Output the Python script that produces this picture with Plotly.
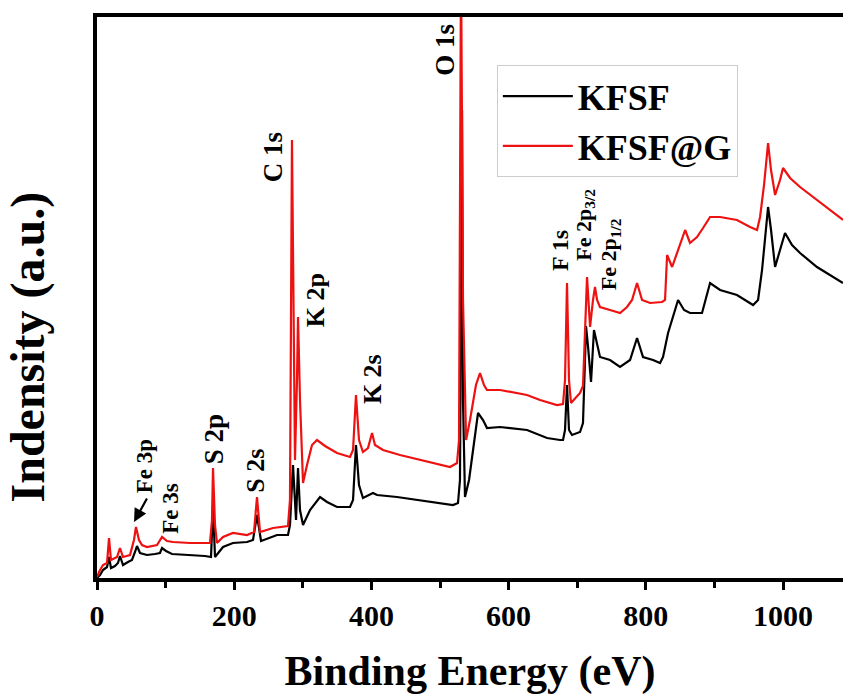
import plotly.graph_objects as go

# ---- data ----
energy_kfsf = [0, 4.4, 8.7, 14.6, 17.5, 20.4, 26.2, 30.6, 33.5, 37.9, 45.2, 51.0, 55.4, 58.3, 62.7,
               72.9, 84.5, 91.8, 94.8, 100.6, 109.3, 135.6, 157.4, 166.2, 169.1, 172.0, 176.4, 183.7,
               198.2, 218.7, 227.4, 233.2, 239.1, 252.2, 262.4, 278.4, 281.3, 285.7, 290.1, 293.0,
               295.9, 300.3, 310.5, 325.1, 335.3, 349.8, 368.8, 373.2, 377.5, 381.9, 387.7, 402.3,
               408.2, 437.3, 470.8, 500.0, 518.9, 526.2, 529.1, 532.1, 533.5, 536.4, 542.3, 555.4,
               562.7, 568.5, 587.5, 626.8, 656.0, 674.9, 679.3, 682.2, 685.1, 688.0, 692.4, 704.1,
               708.4, 711.4, 712.8, 715.7, 720.1, 724.4, 728.9, 733.2, 747.8, 762.4, 777.0, 787.2,
               795.9, 810.5, 820.7, 825.1, 832.4, 847.0, 855.7, 864.4, 881.9, 893.6, 908.2, 932.9,
               956.3, 963.6, 969.4, 978.2, 982.5, 988.4, 995.6, 1002.9, 1013.1, 1024.8, 1049.5,
               1072.9, 1087.4]
int_kfsf = [0, 3, 8, 11, 21, 10, 12, 15, 22, 13, 16, 18, 26, 32, 25,
            23, 24, 25, 30, 27, 24, 23, 22, 21, 73, 21, 25, 31,
            35, 36, 38, 63, 37, 40, 43, 43, 53, 113, 58, 110,
            68, 53, 68, 81, 76, 71, 71, 78, 133, 93, 80, 85,
            83, 81, 78, 75, 73, 75, 98, 468, 178, 81, 98, 165,
            158, 150, 151, 148, 140, 138, 138, 148, 193, 148, 143, 146,
            155, 220, 252, 232, 196, 248, 233, 221, 218, 211, 218, 240,
            221, 218, 215, 221, 245, 278, 268, 265, 265, 295, 288, 283,
            273, 278, 308, 371, 348, 311, 328, 345, 333, 325, 311,
            301, 295]

energy_kfsfg = [0, 2.9, 8.7, 14.6, 17.5, 20.4, 29.2, 33.5, 37.9, 48.1, 53.9, 56.8, 61.2, 65.6,
                72.9, 87.5, 94.8, 102.0, 110.8, 135.6, 164.7, 167.6, 169.1, 172.0, 174.9, 183.7,
                198.2, 218.7, 228.9, 233.2, 237.6, 256.6, 278.4, 281.3, 284.2, 287.2, 288.6, 291.5,
                293.0, 295.9, 300.3, 306.1, 313.4, 320.7, 332.4, 349.8, 368.8, 373.2, 377.5, 381.9,
                387.7, 395.0, 400.9, 405.2, 416.9, 441.7, 470.8, 514.6, 524.8, 527.7, 530.6, 533.5,
                538.0, 543.7, 552.4, 558.3, 564.1, 568.5, 587.5, 626.8, 645.8, 670.5, 679.3, 682.2,
                685.1, 688.0, 690.9, 704.1, 708.4, 711.4, 714.3, 717.2, 718.7, 723.0, 725.9, 728.9,
                733.2, 747.8, 762.4, 772.6, 779.9, 787.2, 794.5, 806.2, 823.7, 828.0, 831.0, 838.3,
                847.0, 857.3, 864.4, 874.6, 883.4, 893.6, 908.2, 932.9, 951.9, 962.1, 966.5, 972.3,
                978.2, 982.5, 988.4, 995.6, 1000.0, 1010.2, 1024.8, 1049.5, 1072.9, 1087.4]
int_kfsfg = [1, 6, 13, 15, 40, 18, 21, 30, 21, 23, 38, 51, 38, 33,
             31, 33, 41, 37, 36, 35, 35, 58, 110, 53, 35, 41,
             45, 43, 46, 81, 46, 50, 52, 78, 438, 158, 118, 198,
             261, 178, 95, 113, 133, 138, 132, 125, 121, 128, 183, 138,
             126, 130, 145, 133, 128, 123, 118, 111, 115, 138, 620, 278,
             138, 158, 193, 205, 193, 188, 188, 183, 178, 173, 174, 198,
             295, 198, 175, 185, 192, 258, 301, 268, 251, 278, 291, 278,
             271, 268, 265, 271, 278, 295, 278, 275, 276, 278, 323, 311,
             328, 348, 335, 341, 350, 361, 361, 358, 351, 348, 361, 393,
             435, 408, 383, 398, 410, 400, 391, 378, 365, 358]

x_tick_vals = [0, 200, 400, 600, 800, 1000]
series_names = ["KFSF", "KFSF@G"]

# ---- figure ----
FONT = "Liberation Serif"
fig = go.Figure()
fig.add_trace(go.Scatter(x=energy_kfsf, y=int_kfsf, mode="lines", name=series_names[0],
                         line=dict(color="#000000", width=2.2)))
fig.add_trace(go.Scatter(x=energy_kfsfg, y=int_kfsfg, mode="lines", name=series_names[1],
                         line=dict(color="#ee1111", width=2.2)))

labels = [
    ("O 1s", 507, 528, 27), ("C 1s", 257, 421, 27), ("K 2p", 318, 278, 26),
    ("K 2s", 401, 199, 26), ("S 2p", 171, 139, 27), ("S 2s", 230, 107, 26),
    ("Fe 3p", 69, 112, 23), ("Fe 3s", 106, 70, 23), ("F 1s", 675, 327, 24),
    ("Fe 2p<sub>3/2</sub>", 711, 353, 22), ("Fe 2p<sub>1/2</sub>", 748, 324, 22),
]
for txt, xx, yy, sz in labels:
    fig.add_annotation(x=xx, y=yy, text=txt, textangle=-90, showarrow=False,
                       font=dict(family=FONT, size=sz, color="black", weight="bold"),
                       xref="x", yref="y")
# arrow for Fe 3p
fig.add_annotation(x=54, y=56, ax=74, ay=81, axref="x", ayref="y", xref="x", yref="y",
                   text="", showarrow=True, arrowhead=2, arrowsize=1.2, arrowwidth=2.2,
                   arrowcolor="black")
# y-axis title (placed as in the reference, below centre)
fig.add_annotation(x=-0.093, y=0.412, xref="paper", yref="paper", text="Indensity (a.u.)",
                   textangle=-90, showarrow=False, xanchor="center", yanchor="middle",
                   font=dict(family=FONT, size=48, color="black", weight="bold"))

fig.update_layout(
    width=843, height=700,
    margin=dict(l=97, r=0, t=17, b=122),
    paper_bgcolor="white", plot_bgcolor="white",
    font=dict(family=FONT, color="black"),
    showlegend=True,
    legend=dict(x=0.536, y=0.914, xanchor="left", yanchor="top",
                bordercolor="#cccccc", borderwidth=1, bgcolor="white",
                font=dict(family=FONT, size=36, color="black", weight="bold"),
                itemwidth=70, tracegroupgap=0),
    xaxis=dict(range=[0, 1087.4], showgrid=False, zeroline=False,
               showline=True, linewidth=3.5, linecolor="black", mirror=True,
               ticks="outside", ticklen=8, tickwidth=3, tickcolor="black",
               tickvals=x_tick_vals,
               minor=dict(ticks="outside", ticklen=6, tickwidth=3, tickcolor="black", dtick=100),
               tickfont=dict(family=FONT, size=30, color="black", weight="bold"),
               title=dict(text="Binding Energy (eV)",
                          font=dict(family=FONT, size=42, weight="bold"),
                          standoff=26)),
    yaxis=dict(range=[0, 561], showgrid=False, zeroline=False,
               showline=True, linewidth=4, linecolor="black", mirror=False,
               showticklabels=False, ticks=""),
)
fig.write_html("out.html")
